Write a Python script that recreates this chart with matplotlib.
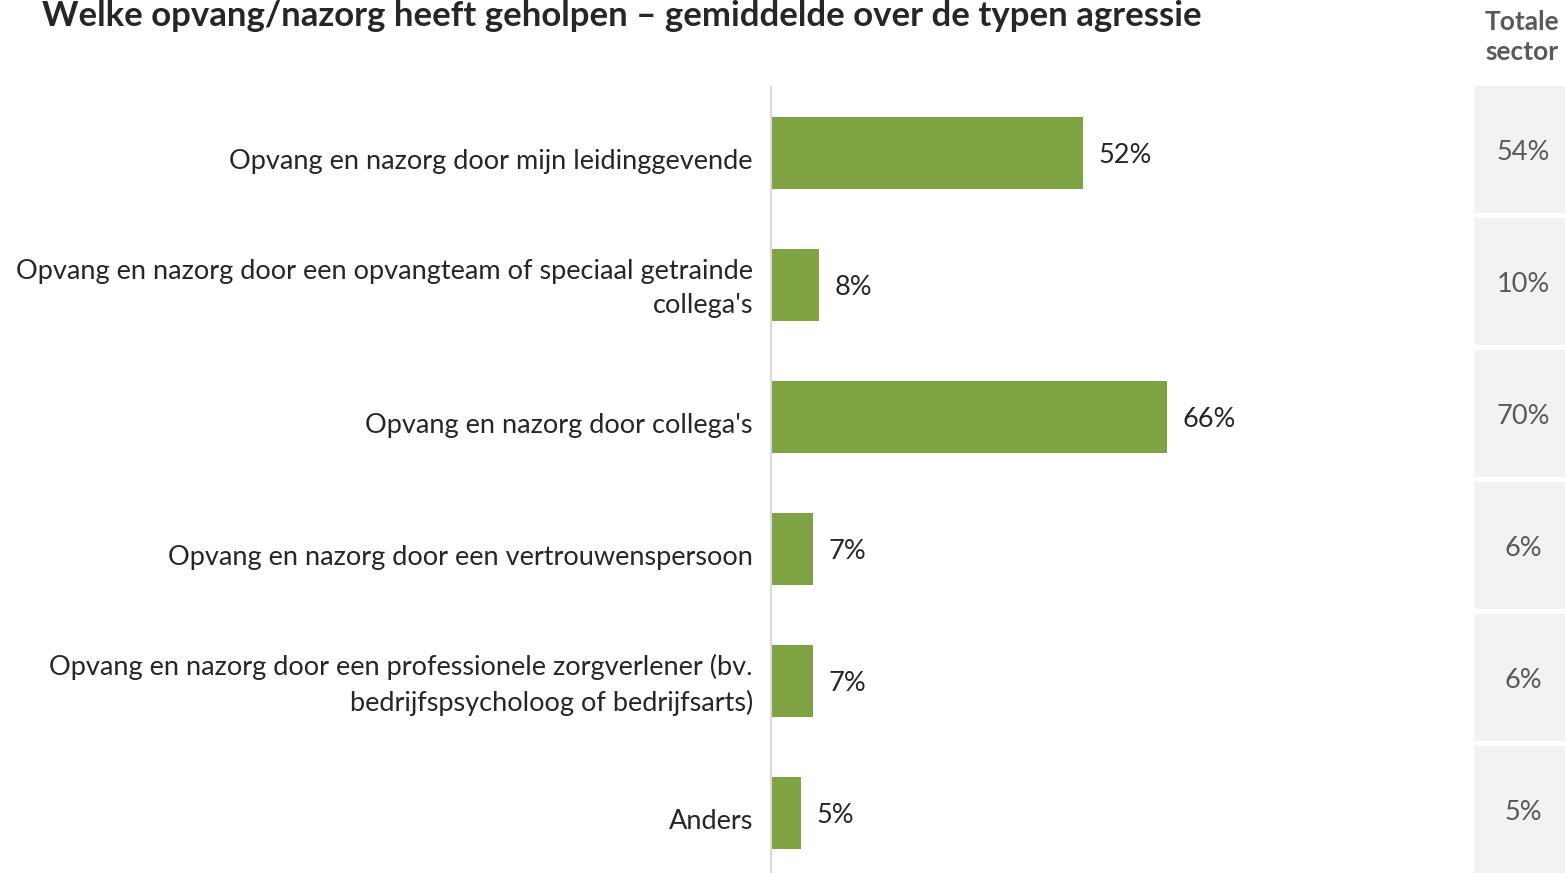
import matplotlib.pyplot as plt
from matplotlib.transforms import ScaledTranslation

plt.rcParams['font.family'] = ['Lato', 'DejaVu Sans']

categories = [
    "Opvang en nazorg door mijn leidinggevende",
    "Opvang en nazorg door een opvangteam of speciaal getrainde\ncollega's",
    "Opvang en nazorg door collega's",
    "Opvang en nazorg door een vertrouwenspersoon",
    "Opvang en nazorg door een professionele zorgverlener (bv.\nbedrijfspsycholoog of bedrijfsarts)",
    "Anders",
]
values = [52, 8, 66, 7, 7, 5]
sector = [54, 10, 70, 6, 6, 5]

W, H = 1565, 873
fig = plt.figure(figsize=(W / 100, H / 100), dpi=100)

# main bar chart
ax = fig.add_axes([771 / W, -6 / H, 600 / W, 792 / H])
y = list(range(len(categories)))
ax.barh(y, values, height=0.545, color='#7ea343')
ax.set_xlim(0, 100)
ax.set_ylim(len(categories) - 0.5, -0.5)
for yi, v in zip(y, values):
    ax.text(v + 2.6, yi + 0.02, f"{v}%", va='center', ha='left', fontsize=19.5, color='#262626')
ax.set_yticks(y)
ax.set_yticklabels(categories, fontsize=19.5, color='#262626', linespacing=1.5)
ax.tick_params(axis='y', length=0, pad=13)
for lab in ax.get_yticklabels():
    dy = 4 if '\n' in lab.get_text() else -6
    lab.set_transform(lab.get_transform() + ScaledTranslation(0, dy / 100, fig.dpi_scale_trans))
ax.set_xticks([])
for s in ['top', 'right', 'bottom']:
    ax.spines[s].set_visible(False)
ax.spines['left'].set_color('#d9d9d9')
ax.spines['left'].set_linewidth(1.5)

# "Totale sector" column
ax2 = fig.add_axes([1474 / W, -2.5 / H, 91 / W, 792 / H])
ax2.barh(y, [1] * len(sector), height=127 / 132, left=0, color='#f2f2f2')
ax2.set_xlim(0, 1)
ax2.set_ylim(len(sector) - 0.5, -0.5)
for yi, v in zip(y, sector):
    ax2.text(0.54, yi + 0.02, f"{v}%", va='center', ha='center', fontsize=19.5, color='#595959')
ax2.axis('off')

fig.text(1522 / W, 1 - 37 / H, "Totale\nsector", ha='center', va='center',
         fontsize=19, fontweight='bold', color='#595959', linespacing=1.35)

fig.text(42 / W, 1.0, "Welke opvang/nazorg heeft geholpen \u2013 gemiddelde over de typen agressie",
         ha='left', va='top', fontsize=25, fontweight='bold', color='#262626')

fig.savefig('out.png', dpi=100)
